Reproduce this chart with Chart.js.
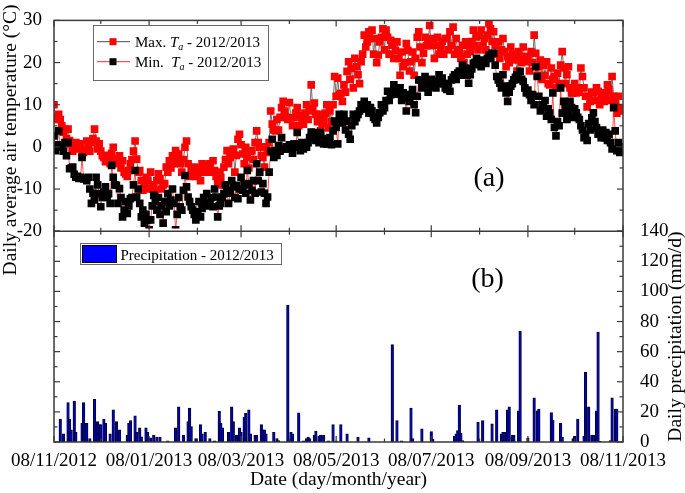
<!DOCTYPE html>
<html>
<head>
<meta charset="utf-8">
<script src="https://cdn.jsdelivr.net/npm/chart.js@4.4.1/dist/chart.umd.min.js"></script>
<style>
  html, body { margin: 0; padding: 0; background: #fff; }
  canvas { display: block; }
</style>
</head>
<body>
<canvas id="chart" width="685" height="493"></canvas>
<script>
const serif = '"Liberation Serif", "Times New Roman", serif';
const frameColor = "#3a3a3a";
const maxColor = "#ff0000";
const minColor = "#000000";
const maxLineColor = "#4a4a4a";
const minLineColor = "#ff2a2a";
const barFill = "#0000b8";
const barEdge = "#000018";

// x axis is days counted from 08/11/2012
const dateTickDays = [0, 61, 120, 181, 242, 304, 365];
const dateTickLabels = ["08/11/2012", "08/01/2013", "08/03/2013", "08/05/2013", "08/07/2013", "08/09/2013", "08/11/2013"];
const monthTickDays = [30, 92, 151, 212, 273, 334];
const tempTicks = [-20, -10, 0, 10, 20, 30];
const precipTicks = [0, 20, 40, 60, 80, 100, 120, 140];

// daily max air temperature, one value per day
const maxTemp = [
  10, 6.5, 7, 7.7, 6.5, 5, 3.5, 4.2, 2, 4.2,
  1.5, 0.7, -1, -0.1, 1, 0.5, -0.5, 0.7, -2, -1.3,
  -0.5, 1.4, 0, -1, 1, 2, 4.2, 1.4, -0.5, 0.7,
  -1, -2.1, -2.5, -3.5, -2, -2.9, -4, -1.5, -0.1, -3,
  -2.9, -4, -2.1, -5, -3.3, -6, -6.4, -7, -5.6, -4,
  -3, -1, 1.4, -2.9, -6, -5.6, -8, -10.3, -9, -7.2,
  -8, -10, -6, -9.9, -9, -10.3, -8, -6.4, -7.5, -10,
  -9, -8.7, -4.8, -6, -3.3, -5, -2.1, -4, -0.9, -3,
  -1.7, -4, -6, -3, -0.1, 1.4, -4, -7, -5.6, -6,
  -4.8, -7, -6.4, -5, -8, -4, -6, -5.6, -4.5, -6,
  -4, -6, -3.3, -5.6, -7, -8.7, -6, -7.2, -9, -4.8,
  -3, -0.9, -4, -2.5, -1.5, -0.5, -6, -2, 1.8, 3,
  0.5, -1.7, -4, -0.1, -2.5, -5, -1, -0.9, -3, 1,
  3.8, 1, -0.1, -2, -2.5, -4.8, 0, -1.3, 1, 8.5,
  5.4, 4, 3.8, 6.5, 4, 7, 9.3, 10.8, 8.5, 7,
  6.5, 10.5, 6.9, 5, 6.9, 8, 9.3, 5, 7.5, 6.9,
  5.4, 8, 10, 6.5, 8.5, 14.7, 9, 10.4, 7.7, 6,
  7.7, 3.8, 5.5, 6.2, 8, 10, 4.5, 8.5, 6, 10,
  16.7, 12, 16.3, 12.3, 12.7, 10.8, 14.7, 13, 17.9, 20.2,
  16, 18.6, 14, 21, 19, 17.1, 15, 20.2, 22, 26.5,
  23.7, 24.9, 27.3, 25.7, 27.7, 22, 25.7, 20, 21.8, 24.9,
  26, 28, 23, 27.7, 26, 22, 25.3, 24.1, 21, 22.9,
  24.9, 21, 17, 22.5, 19, 20, 24.5, 22.9, 18, 20.2,
  22.5, 17, 21, 26, 27.3, 23.7, 20, 22.2, 26, 24,
  25, 28.8, 24, 25.7, 21, 24.1, 26, 22, 23.3, 25,
  22, 25.7, 25.7, 23, 27.3, 24, 28.4, 22, 25.7, 23,
  22.6, 21, 24.1, 20, 24.9, 22, 24.1, 22.6, 25, 27.7,
  24, 26.1, 23, 26.5, 27.7, 24, 25.7, 23, 26.5, 29.2,
  28, 25, 27.3, 24.1, 22, 24.9, 21, 23, 25.7, 22.6,
  19, 21.4, 20, 23.7, 22, 21.8, 20.6, 18, 22.6, 21,
  20, 23.7, 21.4, 20.2, 21.4, 18, 22.6, 20, 26.5, 22.2,
  17, 19, 20.6, 16, 19.4, 17, 20.2, 15, 14.7, 18.7,
  16, 16.7, 14, 17.5, 15, 19.4, 22.6, 18.7, 15, 17.1,
  19, 14, 12.8, 12.8, 15, 12.8, 14, 13, 18.7, 16.7,
  14, 12, 9.5, 12, 10.8, 13, 12.8, 11, 14, 13.2,
  10, 11.5, 12.8, 10.8, 12, 14.7, 13.6, 11, 16.7, 12,
  10.8, 8, 12, 9.3, 8.5
];

// daily min air temperature, one value per day
const minTemp = [
  2.6, -0.9, 0.5, 3.8, -0.1, 0, -1, 1, -2.1, 1,
  -5.2, -5, -4.8, -6.5, -7.2, -7, -7.5, -7.2, -2.5, -7.6,
  -7.5, -8, -7.2, -10, -13.4, -11, -12.6, -7.2, -9, -11.1,
  -14.2, -12, -10.7, -9.5, -12, -11.1, -13.4, -4.4, -7.2, -9,
  -9.1, -13.4, -9.9, -12, -16.6, -15, -13, -15.8, -14, -12.3,
  -12, -9, -5.6, -11.9, -10, -13.4, -16.6, -15, -18.1, -16,
  -17.3, -19.7, -17.3, -14, -11.5, -13, -15, -12, -16, -14,
  -18.1, -13, -15.4, -11.1, -14, -12.6, -10, -13.4, -19.7, -16,
  -12, -14.2, -15, -10.3, -6.8, -9.5, -11.9, -13, -14.2, -15,
  -16, -17.3, -15.4, -13, -16.6, -14.6, -12, -13.4, -11.1, -14,
  -13.4, -12, -14.2, -10, -11.9, -16.6, -14, -13.4, -12, -11.1,
  -9, -10.3, -13.4, -11, -8, -9.5, -12, -9.1, -12.3, -10,
  -7.2, -10.3, -9, -11, -5.6, -8.7, -12.6, -10.3, -8, -11,
  -4, -8, -6, -10.7, -8.7, -11, -13.4, -11.9, -6, -1,
  1.8, -2.5, -0.9, -2, 0.3, -1, 2.2, -0.5, -0.5, 0,
  -0.5, 0.5, -0.1, -1.5, 0.7, -0.1, 3.4, 0.5, -0.9, 1,
  -0.5, 0, -0.1, 1, 2.2, 3.5, 3, 3.4, 1.5, 2.2,
  1, 3.4, 2, 0.7, 1.5, 0.7, 1, 2.2, 0.5, 3.8,
  6.1, 4.6, 0.7, 7.7, 6.5, 5.7, 7.7, 4, 6.1, 3,
  1.8, 5, 7.7, 6, 6.9, 7.7, 8.5, 10, 9, 10.8,
  9, 10, 8, 9.3, 8.5, 7, 6.5, 5.7, 7, 8.1,
  10, 8.5, 9.3, 11, 13.2, 11, 12.4, 13, 14.7, 14,
  12.5, 13, 14, 11, 12.8, 11.5, 8.5, 12.4, 10.8, 12,
  13.6, 10, 8.1, 12, 15.9, 15.9, 14, 15, 16.7, 15,
  13, 14.7, 16, 14.4, 15.5, 14, 15, 17.1, 16, 16.3,
  15, 14, 13.6, 15, 13.2, 15.9, 16.5, 17.1, 16, 17.5,
  18, 17, 19.4, 18, 18.7, 17, 15.1, 17.1, 18.5, 19.8,
  20, 21, 19.5, 20.2, 19, 20.6, 20, 19.8, 21, 21.8,
  21, 22.2, 22.2, 19.4, 16.7, 15.9, 15.1, 14, 17.1, 14.4,
  12.8, 10.8, 13, 14.4, 15, 15.9, 16.5, 17.1, 16, 17.9,
  16, 15.5, 14, 12.8, 13.5, 12.4, 11, 12.4, 10, 19,
  16.7, 12, 8.5, 10, 9.3, 11, 7.3, 9, 8, 6.5,
  12.8, 4.6, 2.6, 6, 5, 14, 8, 10.8, 9.3, 6.5,
  8, 10.8, 9.3, 7, 9, 8.1, 7, 6.5, 5, 4,
  2.2, 3, 1.5, 5.5, 4, 6.9, 8.1, 6, 4.6, 3,
  3.5, 2.2, 4, 2.2, 3.4, 1.5, 3, 1, -0.5, 9.3,
  3.8, -0.9, 1, -1.3, 0
];

// days with precipitation and the amount (mm/d)
const rainDays = [
  4, 6, 9, 10, 11, 13, 14, 18, 19, 20, 21, 23, 26, 28, 29, 30, 32, 33, 36, 38,
  40, 42, 47, 48, 49, 52, 53, 55, 56, 59, 60, 62, 64, 66, 68, 73, 78, 80, 83, 86,
  87, 88, 91, 94, 95, 97, 100, 103, 106, 107, 108, 112, 114, 115, 117, 119, 120, 122, 123, 125,
  126, 129, 130, 133, 134, 135, 136, 141, 143, 144, 150, 152, 153, 157, 160, 162, 163, 164, 167, 168,
  170, 171, 173, 176, 179, 181, 184, 188, 195, 202, 217, 220, 223, 229, 230, 236, 242, 243, 257, 258,
  259, 260, 261, 262, 272, 275, 281, 284, 287, 288, 289, 291, 292, 294, 295, 298, 299, 304, 308, 310,
  311, 319, 320, 325, 326, 333, 334, 336, 340, 341, 343, 345, 346, 348, 349, 350, 357, 358, 360, 361
];
const rainValues = [
  15.3, 5.4, 26.2, 15.3, 8, 27.2, 6.5, 12.4, 26.2, 12.4, 12.4, 2.2, 28.3, 13.5, 11.6, 11.6, 15.3, 12.4, 5.4, 21.4,
  13.5, 8, 4.4, 12.4, 14.2, 17.4, 6.5, 9.4, 3.5, 9.4, 6.5, 2.8, 4.4, 3.3, 3.3, 0.7, 9.4, 23.3, 4.4, 13.5,
  22.5, 10.2, 2.2, 11.6, 5.4, 6.5, 2.2, 0.7, 20.3, 12.4, 9.4, 6.5, 23.3, 13.5, 4.4, 9.4, 6.5, 16.4, 19, 21.4,
  5.4, 4.4, 4.4, 11.6, 8, 8, 5.4, 6.5, 2.2, 1, 90.9, 6.5, 5.4, 19.4, 0.7, 2.2, 3.3, 2.2, 4.4, 7.2,
  3.7, 4.4, 4.4, 0.7, 11.6, 0.7, 11.6, 5.4, 3.3, 2.8, 64.7, 14.2, 0.7, 22.5, 2.2, 8.7, 7, 2, 3.7, 5.4,
  7.6, 24.6, 5.9, 1, 13.1, 14.2, 12, 21.4, 5.4, 6.5, 6.5, 21.4, 23.3, 4.4, 4.4, 20.7, 73.5, 2.8, 29.4, 20.7,
  21.8, 19.6, 14.6, 12.4, 3.3, 2.2, 3.7, 15.3, 3.7, 46.2, 23.3, 4.4, 4.4, 20.7, 73, 0.5, 1, 29.4, 21.8, 21.8
];

function seg(ctx, x1, y1, x2, y2) {
    ctx.beginPath();
    ctx.moveTo(x1, y1);
    ctx.lineTo(x2, y2);
    ctx.stroke();
}

function legendRow(ctx, y, label, lineColor, markColor) {
    ctx.strokeStyle = lineColor;
    ctx.lineWidth = 1;
    seg(ctx, 97, y, 130, y);
    ctx.fillStyle = markColor;
    ctx.fillRect(109.5, y - 3.5, 7, 7);
    ctx.fillStyle = "#000";
    ctx.textAlign = "left";
    ctx.textBaseline = "alphabetic";
    let tx = 135;
    const base = y + 5;
    ctx.font = `15px ${serif}`;
    ctx.fillText(label, tx, base);
    tx += ctx.measureText(label).width;
    ctx.font = `italic 15px ${serif}`;
    ctx.fillText("T", tx, base);
    tx += ctx.measureText("T").width;
    ctx.font = `italic 10px ${serif}`;
    ctx.fillText("a", tx, base + 3);
    tx += ctx.measureText("a").width;
    ctx.font = `15px ${serif}`;
    ctx.fillText(" - 2012/2013", tx, base);
}

function vertText(ctx, text, x, y) {
    ctx.save();
    ctx.translate(x, y);
    ctx.rotate(-Math.PI / 2);
    ctx.textAlign = "center";
    ctx.textBaseline = "alphabetic";
    ctx.fillText(text, 0, 0);
    ctx.restore();
}

const decor = {
    id: "decor",
    afterDatasetsDraw(chart) {
        const {ctx, chartArea: a, scales} = chart;
        const mid = scales.yT.getPixelForValue(-20);
        ctx.save();
        ctx.strokeStyle = frameColor;
        ctx.lineWidth = 1.5;
        ctx.strokeRect(a.left, a.top, a.right - a.left, a.bottom - a.top);
        seg(ctx, a.left, mid, a.right, mid);

        ctx.lineWidth = 1.2;
        const xTick = (d, len) => {
            const px = scales.x.getPixelForValue(d);
            seg(ctx, px, a.top, px, a.top + len);
            seg(ctx, px, mid - len, px, mid + len);
            seg(ctx, px, a.bottom, px, a.bottom - len);
        };
        dateTickDays.forEach(d => xTick(d, 6));
        monthTickDays.forEach(d => xTick(d, 3.5));

        for (let v = -20; v <= 30; v += 5) {
            const py = scales.yT.getPixelForValue(v);
            const len = v % 10 === 0 ? 6 : 3.5;
            seg(ctx, a.left, py, a.left + len, py);
            seg(ctx, a.right, py, a.right - len, py);
        }
        for (let v = 0; v <= 140; v += 10) {
            const py = scales.yP.getPixelForValue(v);
            const len = v % 20 === 0 ? 6 : 3.5;
            seg(ctx, a.left, py, a.left + len, py);
            seg(ctx, a.right, py, a.right - len, py);
        }
        ctx.restore();
    },
    afterDraw(chart) {
        const {ctx, scales} = chart;
        ctx.save();
        // temperature legend
        ctx.fillStyle = "#fff";
        ctx.fillRect(93.5, 25.5, 175, 55);
        ctx.strokeStyle = "#6a6a6a";
        ctx.lineWidth = 1;
        ctx.strokeRect(93.5, 25.5, 175, 55);
        legendRow(ctx, 41.7, "Max. ", maxLineColor, maxColor);
        legendRow(ctx, 61.7, "Min.  ", minLineColor, minColor);

        // precipitation legend
        ctx.fillStyle = "#fff";
        ctx.fillRect(80.5, 243.5, 201, 21);
        ctx.strokeStyle = "#6a6a6a";
        ctx.strokeRect(80.5, 243.5, 201, 21);
        ctx.fillStyle = "#0000ff";
        ctx.fillRect(82.5, 245.5, 34, 17);
        ctx.strokeStyle = "#000";
        ctx.strokeRect(82.5, 245.5, 34, 17);
        ctx.fillStyle = "#000";
        ctx.font = `15px ${serif}`;
        ctx.textAlign = "left";
        ctx.textBaseline = "alphabetic";
        ctx.fillText("Precipitation - 2012/2013", 120.5, 259.5);

        // panel labels
        ctx.font = `28px ${serif}`;
        ctx.textAlign = "center";
        ctx.fillText("(a)", 489, 186);
        ctx.fillText("(b)", 487.5, 287);

        // rotated axis titles
        ctx.font = `19.5px ${serif}`;
        vertText(ctx, "Daily average air temperature (\u00B0C)", 15.5, 140);
        vertText(ctx, "Daily precipitation (mm/d)", 681, (scales.yP.getPixelForValue(0) + scales.yP.getPixelForValue(140)) / 2);
        ctx.restore();
    }
};

const tickFont = {family: serif, size: 19};

new Chart(document.getElementById("chart"), {
    type: "line",
    data: {
        datasets: [
            {
                label: "Max. Ta - 2012/2013",
                data: maxTemp.map((v, i) => ({x: i, y: v})),
                yAxisID: "yT",
                borderColor: maxLineColor,
                borderWidth: 0.8,
                backgroundColor: maxColor,
                pointStyle: "rect",
                pointRadius: 5.4,
                pointBorderWidth: 0,
                pointBackgroundColor: maxColor,
                tension: 0,
                order: 2,
                clip: {left: 0, top: 0, right: 0, bottom: -213.5}
            },
            {
                label: "Min. Ta - 2012/2013",
                data: minTemp.map((v, i) => ({x: i, y: v})),
                yAxisID: "yT",
                borderColor: minLineColor,
                borderWidth: 0.8,
                backgroundColor: minColor,
                pointStyle: "rect",
                pointRadius: 5.4,
                pointBorderWidth: 0,
                pointBackgroundColor: minColor,
                tension: 0,
                order: 1,
                clip: {left: 0, top: 0, right: 0, bottom: -213.5}
            },
            {
                type: "bar",
                label: "Precipitation - 2012/2013",
                data: rainDays.map((d, i) => ({x: d, y: rainValues[i]})),
                yAxisID: "yP",
                backgroundColor: barFill,
                borderColor: barEdge,
                borderWidth: 0.8,
                barThickness: 2.6,
                grouped: false,
                order: 3
            }
        ]
    },
    options: {
        responsive: false,
        animation: false,
        devicePixelRatio: 1,
        layout: {padding: {top: 15, left: 0, right: 0, bottom: 0}},
        plugins: {
            legend: {display: false},
            title: {display: false},
            tooltip: {enabled: false}
        },
        scales: {
            x: {
                type: "linear",
                min: 0,
                max: 365,
                offset: false,
                grid: {display: false},
                border: {display: false},
                afterBuildTicks: s => { s.ticks = dateTickDays.map(v => ({value: v})); },
                afterFit: s => { s.height = 51; },
                ticks: {
                    autoSkip: false,
                    maxRotation: 0,
                    padding: 0,
                    color: "#000",
                    font: tickFont,
                    callback: v => dateTickLabels[dateTickDays.indexOf(v)]
                },
                title: {
                    display: true,
                    text: "Date (day/month/year)",
                    color: "#000",
                    font: {family: serif, size: 19.5},
                    padding: {top: 0, bottom: 1}
                }
            },
            yT: {
                type: "linear",
                position: "left",
                min: -70,
                max: 30,
                grid: {display: false},
                border: {display: false},
                afterBuildTicks: s => { s.ticks = tempTicks.map(v => ({value: v})); },
                afterFit: s => { s.width = 54; },
                ticks: {padding: 4, color: "#000", font: tickFont, callback: v => `${v}`}
            },
            yP: {
                type: "linear",
                position: "right",
                min: 0,
                max: 280,
                grid: {display: false},
                border: {display: false},
                afterBuildTicks: s => { s.ticks = precipTicks.map(v => ({value: v})); },
                afterFit: s => { s.width = 62; },
                ticks: {padding: 9, color: "#000", font: tickFont, callback: v => `${v}`}
            }
        }
    },
    plugins: [decor]
});
</script>
</body>
</html>
